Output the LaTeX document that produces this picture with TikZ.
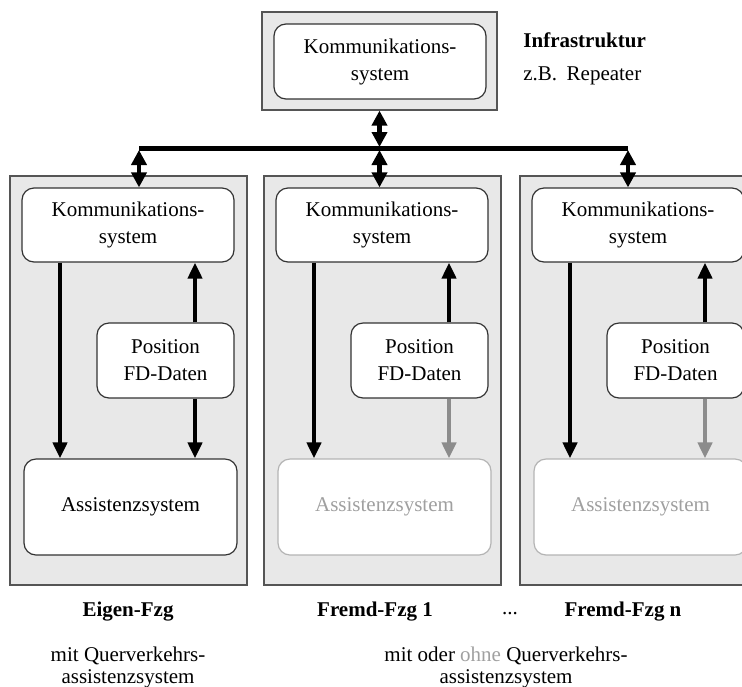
\documentclass[tikz,border=0pt]{standalone}
\usepackage{fontspec}
\setmainfont{Liberation Serif}
\usetikzlibrary{arrows.meta}
\definecolor{panelfill}{HTML}{E8E8E8}
\definecolor{panelline}{HTML}{555555}
\definecolor{boxline}{HTML}{333333}
\definecolor{greyarrow}{HTML}{8C8C8C}
\definecolor{greybox}{HTML}{B4B4B4}
\definecolor{greytext}{HTML}{A0A0A0}
\begin{document}
\begin{tikzpicture}[x=0.5pt,y=-0.5pt,
  panel/.style={draw=panelline,fill=panelfill,line width=0.6pt,inner sep=0pt},
  ibox/.style={draw=boxline,fill=white,line width=0.6pt,rounded corners=6pt,inner sep=0pt,align=center,
     font=\fontsize{10.5pt}{13.5pt}\selectfont},
  gbox/.style={ibox,draw=greybox,text=greytext},
  conn/.style={line width=2.25pt,-{Triangle[length=8pt,width=7pt]}},
  dconn/.style={line width=2.25pt,{Triangle[length=7.5pt,width=7.5pt]}-{Triangle[length=7.5pt,width=7.5pt]}},
  gconn/.style={conn,draw=greyarrow,-{Triangle[length=8pt,width=7pt,fill=greyarrow]}},
  lbl/.style={font=\fontsize{10.5pt}{11pt}\selectfont,align=center,inner sep=0pt},
  blbl/.style={font=\fontsize{10.5pt}{11pt}\selectfont\bfseries,inner sep=0pt}]
\useasboundingbox (0,0) rectangle (742,686);
% top infrastructure
\node[panel,minimum width=117.5pt,minimum height=49pt] (otop) at (379.5,61) {};
\node[ibox,minimum width=106pt,minimum height=37.5pt] (ktop) at (380,61.5) {Kommunikations-\\system};
\node[blbl,anchor=west] (infra) at (523,40) {Infrastruktur};
\node[lbl,anchor=west] (zb) at (523,76) {z.B.\hspace{0.45em}Repeater};
% panels
\foreach \name/\dx in {a/0,b/254,c/510}{
  \node[panel,minimum width=118.5pt,minimum height=204.5pt] (o\name) at (128.5+\dx,380.5) {};
  \node[ibox,minimum width=106pt,minimum height=37pt] (k\name) at (128+\dx,225) {Kommunikations-\\system};
  \node[ibox,minimum width=68.5pt,minimum height=37.5pt] (p\name) at (165.5+\dx,360.5) {Position\\FD-Daten};
}
\node[ibox,minimum width=106.5pt,minimum height=48pt] (sa) at (130.5,507) {Assistenzsystem};
\node[gbox,minimum width=106.5pt,minimum height=48pt] (sb) at (130.5+254,507) {Assistenzsystem};
\node[gbox,minimum width=106.5pt,minimum height=48pt] (sc) at (130.5+510,507) {Assistenzsystem};
% bus
\coordinate (busL) at (139,148);
\coordinate (busM) at (379.5,148);
\coordinate (busR) at (628,148);
\draw[line width=2.5pt] (busL) -- (busR);
\draw[dconn,shorten >=0.5pt] (otop.south -| busM) -- (busM);
\draw[dconn,shorten >=-6pt,shorten <=1pt] (busL) -- (busL |- oa.north);
\draw[dconn,shorten >=-6pt,shorten <=1pt] (busM) -- (busM |- ob.north);
\draw[dconn,shorten >=-6pt,shorten <=1pt] (busR) -- (busR |- oc.north);
% inner arrows
\foreach \name/\dx in {a/0,b/254,c/510}{
  \coordinate (l\name) at (60+\dx,0);
  \coordinate (r\name) at (195+\dx,0);
  \draw[conn] (l\name |- k\name.south) -- (l\name |- s\name.north);
  \draw[conn] (r\name |- p\name.north) -- (r\name |- k\name.south);
}
\draw[conn] (ra |- pa.south) -- (ra |- sa.north);
\draw[gconn] (rb |- pb.south) -- (rb |- sb.north);
\draw[gconn] (rc |- pc.south) -- (rc |- sc.north);
% bottom labels
\node[blbl] (eigen) at (128,612) {Eigen-Fzg};
\node[blbl] (fremd1) at (375,612) {Fremd-Fzg 1};
\node[lbl] (dots) at (510,614) {...};
\node[blbl] (fremdn) at (623,612) {Fremd-Fzg n};
\node[lbl] (mitq) at (128,667) {mit Querverkehrs-\\assistenzsystem};
\node[lbl] (mitoder) at (506,667) {mit oder \textcolor{greytext}{ohne} Querverkehrs-\\assistenzsystem};
\end{tikzpicture}
\end{document}
